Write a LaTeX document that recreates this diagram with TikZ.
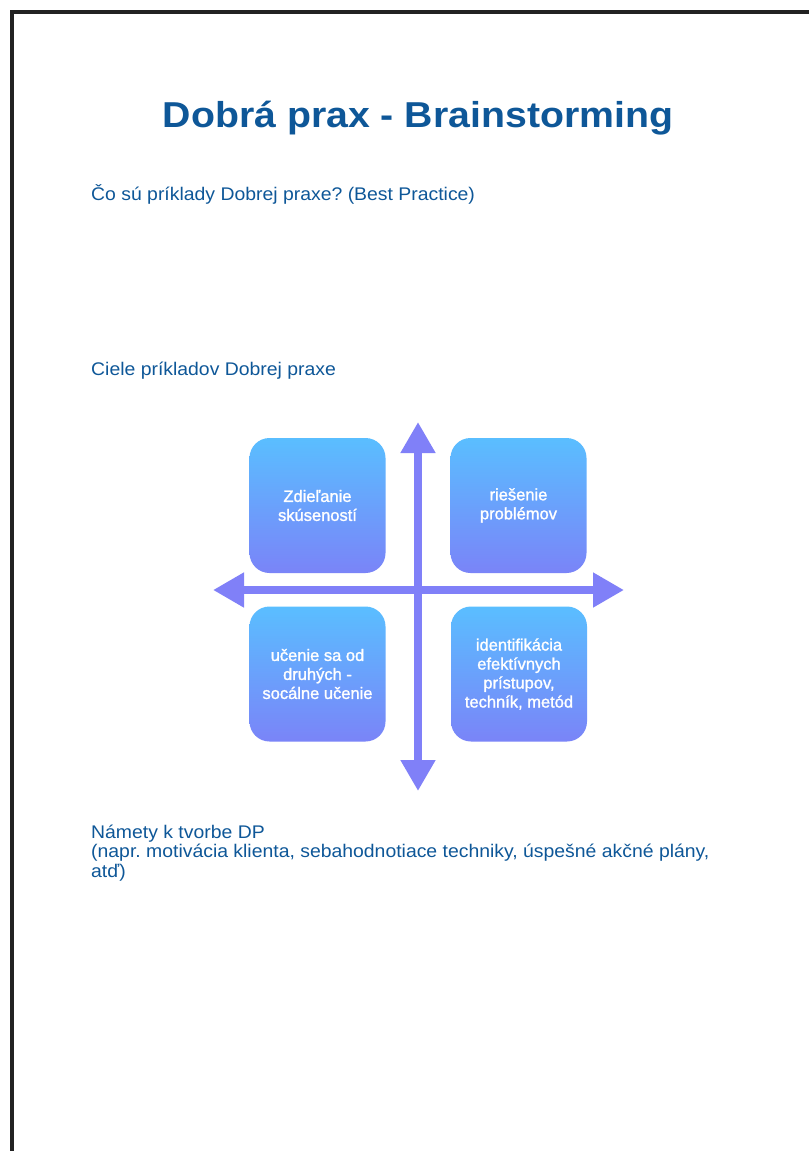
\documentclass[tikz,border=0pt]{standalone}
\usepackage{fontspec}
\setmainfont{Liberation Sans}
\newfontfamily\titlefont{Liberation Sans}[FakeStretch=1.09]
\newfontfamily\bodyfont{Liberation Sans}[FakeStretch=1.06]
\newfontface\boxfont{Liberation Sans}[FakeBold=1.4]
\usetikzlibrary{arrows.meta}
\frenchspacing
\definecolor{txtblue}{RGB}{14,87,152}
\definecolor{boxtop}{RGB}{90,190,255}
\definecolor{boxbot}{RGB}{122,132,248}
\definecolor{arrcol}{RGB}{128,128,248}
\definecolor{frame}{RGB}{34,34,34}
\begin{document}
\begin{tikzpicture}[x=1pt,y=-1pt,
  quad/.style={rounded corners=20pt, top color=boxtop, bottom color=boxbot, draw=none,
    minimum width=136pt, minimum height=135pt, inner sep=0pt, text=white, align=center,
    font=\boxfont\fontsize{16.5}{19}\selectfont},
  bodytext/.style={text=txtblue, inner sep=0pt, align=left, font=\bodyfont\frenchspacing\fontsize{18.3}{19.2}\selectfont},
  axis/.style={draw=arrcol, line width=8pt, {Triangle[width=33pt,length=31pt]}-{Triangle[width=33pt,length=31pt]}}
]
\useasboundingbox (0,0) rectangle (809,1151);
\fill[white] (0,0) rectangle (809,1151);
\draw[frame, line width=3.5pt] (11.75,1151) -- (11.75,12) -- (809,12);

\node[anchor=base, text=txtblue, inner sep=0pt, font=\titlefont\bfseries\fontsize{36}{40}\selectfont] (title) at (418,127) {Dobrá prax - Brainstorming};

\node[bodytext, anchor=base west] (q1) at (91,200) {Čo sú príklady Dobrej praxe? (Best Practice)};
\node[bodytext, anchor=base west] (q2) at (91,375) {Ciele príkladov Dobrej praxe};
\node[bodytext, anchor=base west] (q3) at (91,877) {Námety k tvorbe DP\\(napr. motivácia klienta, sebahodnotiace techniky, úspešné akčné plány,\\atď)};

\coordinate (vtop) at (418,422);
\coordinate (vbot) at (418,791);
\coordinate (hleft) at (213,590);
\coordinate (hright) at (624,590);
\draw[axis] (vbot) -- (vtop);
\draw[axis] (hleft) -- (hright);

\node[quad] (tl) at (317.5,505.5) {Zdieľanie\\skúseností};
\node[quad] (tr) at (518.5,505.5) {riešenie\\problémov};
\node[quad] (bl) at (317.5,674) {učenie sa od\\druhých -\\socálne učenie};
\node[quad] (br) at (519,674) {identifikácia\\efektívnych\\prístupov,\\techník, metód};
\end{tikzpicture}
\end{document}
